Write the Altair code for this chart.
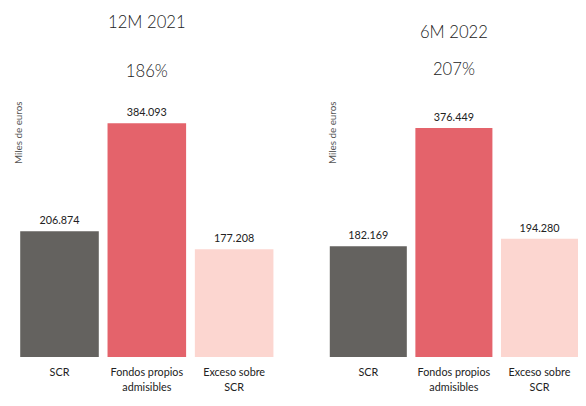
import altair as alt
import pandas as pd

categories = ["SCR", "Fondos propios|admisibles", "Exceso sobre|SCR"]
values_2021 = [206.874, 384.093, 177.208]
values_2022 = [182.169, 376.449, 194.280]
titles_2021 = ["12M 2021", "186%"]
titles_2022 = ["6M 2022", "207%"]
colors = ["#64625f", "#e4636b", "#fcd6d0"]
y_title = "Miles de euros"


def panel(vals, title, lh, offset, width, pad_outer):
    df = pd.DataFrame({"cat": categories, "val": vals})
    base = alt.Chart(df).encode(
        x=alt.X(
            "cat:N",
            sort=categories,
            scale=alt.Scale(paddingInner=0.1, paddingOuter=pad_outer),
            axis=alt.Axis(
                title=None, labelAngle=0, domain=False, ticks=False,
                labelExpr="split(datum.label, '|')", labelPadding=10,
                labelFontSize=11, labelLineHeight=15, labelColor="#222",
                labelOverlap=False, labelLimit=200,
            ),
        ),
        y=alt.Y(
            "val:Q",
            scale=alt.Scale(domain=[0, 429], nice=False),
            axis=alt.Axis(
                title=y_title, labels=False, ticks=False, domain=False, grid=False,
                titleX=8, titleY=37, titleFontSize=10, titleFontWeight="normal",
                titleColor="#555",
            ),
        ),
    )
    bars = base.mark_bar().encode(
        color=alt.Color("cat:N", scale=alt.Scale(domain=categories, range=colors), legend=None)
    )
    text = base.mark_text(baseline="bottom", dy=-5, fontSize=11, color="#222").encode(
        text=alt.Text("val:Q", format=".3f")
    )
    return (bars + text).properties(
        width=width,
        height=266,
        title=alt.TitleParams(
            text=title, lineHeight=lh, offset=offset, fontSize=17,
            fontWeight=300, anchor="middle", color="#222",
        ),
    )


left = panel(values_2021, titles_2021, 50, 15, 267, 0.05)
right = panel(values_2022, titles_2022, 38, 17, 253, 0.0)

chart = (
    alt.hconcat(left, right, spacing=51)
    .configure(font="Lato", padding={"left": 6, "top": 3, "right": 0, "bottom": 0})
    .configure_view(stroke=None)
)

chart.save("out.html", embed_options={"renderer": "svg", "actions": False})
